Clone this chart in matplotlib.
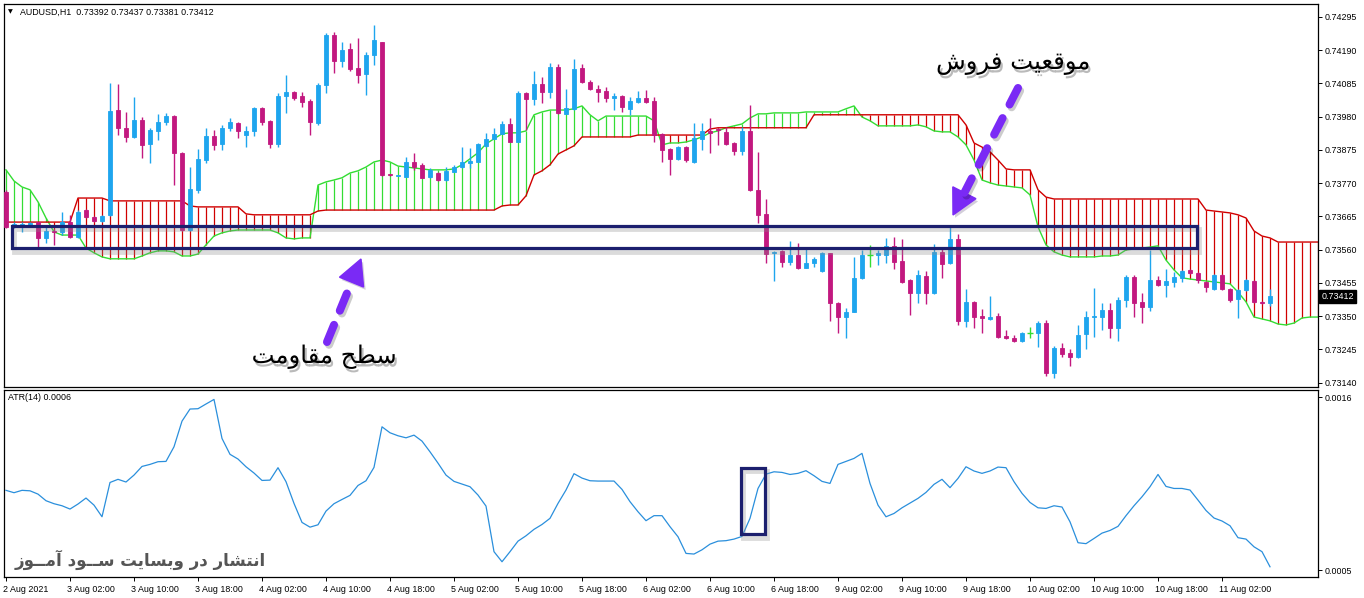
import numpy as np
import matplotlib
matplotlib.use('Agg')
import matplotlib.pyplot as plt
import matplotlib.patheffects as pe
from matplotlib.patches import Rectangle, Polygon
import matplotlib.transforms as mtransforms

# AUDUSD H1, bars from 2 Aug 18:00 to 11 Aug 08:00
open_ = [0.73742, 0.73632, 0.73632, 0.73635, 0.73647, 0.73597, 0.73619, 0.73616, 0.73647, 0.73600,
         0.73685, 0.73663, 0.73651, 0.73670, 0.74001, 0.73945, 0.73916, 0.73970, 0.73894, 0.73935,
         0.73963, 0.73982, 0.73866, 0.73622, 0.73749, 0.73843, 0.73919, 0.73894, 0.73945, 0.73960,
         0.73922, 0.73935, 0.74008, 0.73967, 0.73894, 0.74046, 0.74058, 0.74046, 0.74030, 0.73960,
         0.74080, 0.74238, 0.74156, 0.74194, 0.74134, 0.74115, 0.74175, 0.74216, 0.73799, 0.73793,
         0.73790, 0.73837, 0.73828, 0.73790, 0.73802, 0.73780, 0.73805, 0.73821, 0.73834, 0.73837,
         0.73888, 0.73910, 0.73926, 0.73957, 0.73900, 0.74055, 0.74036, 0.74084, 0.74058, 0.74137,
         0.73989, 0.74005, 0.74134, 0.74090, 0.74068, 0.74061, 0.74039, 0.74046, 0.74005, 0.74027,
         0.74039, 0.74030, 0.73926, 0.73878, 0.73847, 0.73884, 0.73837, 0.73910, 0.73935, 0.73941,
         0.73932, 0.73897, 0.73872, 0.73935, 0.73749, 0.73673, 0.73550, 0.73556, 0.73521, 0.73543,
         0.73502, 0.73518, 0.73493, 0.73550, 0.73392, 0.73347, 0.73363, 0.73471, 0.73543, 0.73543,
         0.73543, 0.73572, 0.73524, 0.73464, 0.73423, 0.73477, 0.73423, 0.73553, 0.73518, 0.73594,
         0.73335, 0.73395, 0.73350, 0.73341, 0.73350, 0.73287, 0.73281, 0.73271, 0.73297, 0.73297,
         0.73328, 0.73170, 0.73249, 0.73234, 0.73221, 0.73294, 0.73347, 0.73347, 0.73369, 0.73313,
         0.73401, 0.73474, 0.73395, 0.73379, 0.73464, 0.73448, 0.73458, 0.73471, 0.73496, 0.73486,
         0.73458, 0.73436, 0.73480, 0.73436, 0.73404, 0.73433, 0.73461, 0.73395, 0.73392]
high = [0.73749, 0.73647, 0.73647, 0.73647, 0.73647, 0.73632, 0.73625, 0.73679, 0.73670, 0.73685,
        0.73689, 0.73666, 0.73670, 0.74087, 0.74084, 0.73995, 0.74042, 0.73979, 0.73945, 0.73989,
        0.73992, 0.73986, 0.73869, 0.73821, 0.73878, 0.73945, 0.73938, 0.73954, 0.73976, 0.73963,
        0.73951, 0.74011, 0.74011, 0.73970, 0.74055, 0.74112, 0.74061, 0.74058, 0.74036, 0.74087,
        0.74245, 0.74248, 0.74216, 0.74213, 0.74229, 0.74185, 0.74270, 0.74216, 0.73799, 0.73796,
        0.73853, 0.73866, 0.73834, 0.73818, 0.73805, 0.73821, 0.73828, 0.73884, 0.73881, 0.73897,
        0.73929, 0.73945, 0.73967, 0.73976, 0.74061, 0.74058, 0.74125, 0.74106, 0.74150, 0.74147,
        0.74068, 0.74163, 0.74147, 0.74096, 0.74080, 0.74074, 0.74055, 0.74049, 0.74042, 0.74061,
        0.74065, 0.74042, 0.73929, 0.73881, 0.73888, 0.73888, 0.73960, 0.73960, 0.73976, 0.73945,
        0.73948, 0.73900, 0.73948, 0.74017, 0.73869, 0.73720, 0.73556, 0.73559, 0.73587, 0.73581,
        0.73565, 0.73537, 0.73553, 0.73550, 0.73395, 0.73376, 0.73537, 0.73559, 0.73575, 0.73559,
        0.73597, 0.73600, 0.73594, 0.73467, 0.73496, 0.73493, 0.73578, 0.73565, 0.73632, 0.73610,
        0.73436, 0.73398, 0.73373, 0.73414, 0.73360, 0.73306, 0.73290, 0.73300, 0.73316, 0.73335,
        0.73338, 0.73256, 0.73265, 0.73246, 0.73322, 0.73366, 0.73439, 0.73392, 0.73392, 0.73410,
        0.73480, 0.73480, 0.73423, 0.73559, 0.73477, 0.73499, 0.73489, 0.73496, 0.73499, 0.73489,
        0.73461, 0.73483, 0.73483, 0.73439, 0.73436, 0.73467, 0.73464, 0.73398, 0.73437]
low = [0.73629, 0.73629, 0.73616, 0.73632, 0.73568, 0.73581, 0.73575, 0.73606, 0.73597, 0.73597,
       0.73660, 0.73647, 0.73647, 0.73666, 0.73922, 0.73900, 0.73913, 0.73850, 0.73834, 0.73907,
       0.73954, 0.73764, 0.73619, 0.73619, 0.73739, 0.73834, 0.73875, 0.73875, 0.73935, 0.73913,
       0.73884, 0.73919, 0.73954, 0.73881, 0.73884, 0.73992, 0.74033, 0.74011, 0.73922, 0.73954,
       0.74055, 0.74118, 0.74137, 0.74125, 0.74087, 0.74049, 0.74144, 0.73793, 0.73793, 0.73793,
       0.73790, 0.73812, 0.73787, 0.73787, 0.73777, 0.73777, 0.73805, 0.73818, 0.73818, 0.73837,
       0.73884, 0.73910, 0.73926, 0.73900, 0.73900, 0.73938, 0.74017, 0.74024, 0.74039, 0.73989,
       0.73989, 0.74001, 0.74087, 0.74065, 0.74027, 0.74027, 0.74001, 0.73995, 0.73986, 0.74024,
       0.74024, 0.73900, 0.73837, 0.73796, 0.73843, 0.73837, 0.73834, 0.73875, 0.73866, 0.73891,
       0.73891, 0.73859, 0.73859, 0.73745, 0.73644, 0.73518, 0.73461, 0.73505, 0.73512, 0.73499,
       0.73502, 0.73505, 0.73489, 0.73335, 0.73297, 0.73281, 0.73363, 0.73467, 0.73505, 0.73512,
       0.73518, 0.73499, 0.73455, 0.73354, 0.73392, 0.73388, 0.73420, 0.73471, 0.73515, 0.73322,
       0.73316, 0.73313, 0.73297, 0.73338, 0.73281, 0.73278, 0.73268, 0.73268, 0.73281, 0.73252,
       0.73161, 0.73155, 0.73221, 0.73192, 0.73218, 0.73246, 0.73284, 0.73306, 0.73281, 0.73271,
       0.73379, 0.73347, 0.73328, 0.73366, 0.73445, 0.73410, 0.73442, 0.73458, 0.73483, 0.73455,
       0.73426, 0.73433, 0.73433, 0.73395, 0.73344, 0.73429, 0.73392, 0.73388, 0.73381]
close = [0.73632, 0.73641, 0.73641, 0.73644, 0.73597, 0.73619, 0.73616, 0.73647, 0.73600, 0.73679,
         0.73663, 0.73651, 0.73666, 0.73998, 0.73945, 0.73916, 0.73970, 0.73891, 0.73938, 0.73963,
         0.73982, 0.73866, 0.73622, 0.73752, 0.73847, 0.73919, 0.73891, 0.73945, 0.73963, 0.73935,
         0.73935, 0.74008, 0.73963, 0.73894, 0.74046, 0.74058, 0.74039, 0.74027, 0.73963, 0.74080,
         0.74238, 0.74156, 0.74191, 0.74131, 0.74112, 0.74175, 0.74223, 0.73796, 0.73796, 0.73796,
         0.73837, 0.73821, 0.73787, 0.73812, 0.73780, 0.73809, 0.73821, 0.73837, 0.73840, 0.73894,
         0.73910, 0.73926, 0.73957, 0.73900, 0.74055, 0.74036, 0.74084, 0.74058, 0.74137, 0.73992,
         0.74008, 0.74131, 0.74090, 0.74068, 0.74058, 0.74039, 0.74046, 0.74011, 0.74030, 0.74039,
         0.74027, 0.73922, 0.73875, 0.73847, 0.73884, 0.73843, 0.73913, 0.73935, 0.73929, 0.73938,
         0.73894, 0.73872, 0.73935, 0.73749, 0.73670, 0.73546, 0.73553, 0.73521, 0.73543, 0.73502,
         0.73518, 0.73531, 0.73550, 0.73392, 0.73347, 0.73363, 0.73471, 0.73543, 0.73543, 0.73550,
         0.73572, 0.73521, 0.73458, 0.73423, 0.73480, 0.73423, 0.73553, 0.73515, 0.73594, 0.73335,
         0.73395, 0.73347, 0.73344, 0.73347, 0.73284, 0.73281, 0.73271, 0.73297, 0.73297, 0.73328,
         0.73170, 0.73249, 0.73230, 0.73221, 0.73290, 0.73347, 0.73350, 0.73369, 0.73313, 0.73401,
         0.73474, 0.73392, 0.73379, 0.73464, 0.73448, 0.73461, 0.73474, 0.73493, 0.73486, 0.73464,
         0.73442, 0.73480, 0.73436, 0.73401, 0.73433, 0.73464, 0.73395, 0.73392, 0.73412]

# Ichimoku Senkou spans (shifted 26 bars ahead of price)
span_a = [0.73812, 0.73777, 0.73758, 0.73749, 0.73711, 0.73660, 0.73616, 0.73606, 0.73606, 0.73606,
          0.73565, 0.73550, 0.73537, 0.73531, 0.73531, 0.73531, 0.73531, 0.73540, 0.73550, 0.73556,
          0.73556, 0.73553, 0.73540, 0.73540, 0.73546, 0.73575, 0.73603, 0.73613, 0.73619, 0.73622,
          0.73622, 0.73622, 0.73622, 0.73622, 0.73613, 0.73597, 0.73594, 0.73597, 0.73597, 0.73764,
          0.73774, 0.73780, 0.73787, 0.73802, 0.73809, 0.73821, 0.73837, 0.73843, 0.73837, 0.73824,
          0.73821, 0.73818, 0.73815, 0.73812, 0.73812, 0.73812, 0.73815, 0.73828, 0.73847, 0.73866,
          0.73894, 0.73910, 0.73926, 0.73929, 0.73929, 0.73935, 0.73986, 0.73995, 0.74001, 0.74001,
          0.74001, 0.74005, 0.74014, 0.73986, 0.73967, 0.73982, 0.73982, 0.73982, 0.73982, 0.73982,
          0.73982, 0.73967, 0.73891, 0.73897, 0.73897, 0.73900, 0.73907, 0.73916, 0.73929, 0.73935,
          0.73945, 0.73951, 0.73957, 0.73976, 0.73989, 0.73989, 0.73992, 0.73992, 0.73992, 0.73992,
          0.73995, 0.73995, 0.73995, 0.73995, 0.73995, 0.74005, 0.74014, 0.73979, 0.73967, 0.73951,
          0.73951, 0.73951, 0.73951, 0.73951, 0.73954, 0.73948, 0.73935, 0.73932, 0.73932, 0.73916,
          0.73891, 0.73843, 0.73780, 0.73771, 0.73764, 0.73761, 0.73758, 0.73755, 0.73733, 0.73632,
          0.73575, 0.73553, 0.73543, 0.73537, 0.73537, 0.73537, 0.73537, 0.73540, 0.73540, 0.73543,
          0.73559, 0.73562, 0.73565, 0.73568, 0.73572, 0.73527, 0.73496, 0.73471, 0.73467, 0.73464,
          0.73461, 0.73458, 0.73455, 0.73452, 0.73426, 0.73395, 0.73347, 0.73341, 0.73335, 0.73325,
          0.73322, 0.73328, 0.73344, 0.73347, 0.73347]
span_b = ([0.73647] * 9 + [0.73723] * 4 + [0.73714] * 10 + [0.73698] + [0.73695] * 6
          + [0.73673] + [0.73670] * 8 + [0.73682] + [0.73685] * 22 + [0.73698] + [0.73701] * 2
          + [0.73730, 0.73796, 0.73809, 0.73828, 0.73862, 0.73875, 0.73888]
          + [0.73916] * 7 + [0.73922] * 9 + [0.73941] + [0.73945] * 12 + [0.73986] * 19
          + [0.73954, 0.73897, 0.73884, 0.73869, 0.73843, 0.73815] + [0.73812] * 3
          + [0.73749, 0.73726] + [0.73720] * 19
          + [0.73685, 0.73682, 0.73679, 0.73676, 0.73670, 0.73660, 0.73619, 0.73603, 0.73597]
          + [0.73584] * 6)

atr = [0.001007, 0.000992, 0.001007, 0.001004, 0.000983, 0.000941, 0.000922, 0.000909, 0.000888, 0.000920,
       0.000958, 0.000913, 0.000839, 0.001057, 0.001077, 0.001060, 0.001104, 0.001159, 0.001172, 0.001189,
       0.001191, 0.001284, 0.001447, 0.001524, 0.001526, 0.001556, 0.001585, 0.001337, 0.001236, 0.001206,
       0.001157, 0.001117, 0.001070, 0.001072, 0.001151, 0.001062, 0.000924, 0.000803, 0.000773, 0.000788,
       0.000875, 0.000922, 0.000949, 0.000975, 0.001038, 0.001068, 0.001153, 0.001411, 0.001373, 0.001354,
       0.001341, 0.001358, 0.001320, 0.001252, 0.001180, 0.001104, 0.001064, 0.001047, 0.001030, 0.000977,
       0.000907, 0.000617, 0.000553, 0.000617, 0.000684, 0.000718, 0.000759, 0.000790, 0.000829, 0.000924,
       0.001009, 0.001113, 0.001085, 0.001068, 0.001066, 0.001066, 0.001066, 0.001013, 0.000935, 0.000871,
       0.000814, 0.000846, 0.000846, 0.000776, 0.000712, 0.000606, 0.000602, 0.000629, 0.000665, 0.000684,
       0.000687, 0.000697, 0.000714, 0.000829, 0.001019, 0.001110, 0.001125, 0.001121, 0.001108, 0.001115,
       0.001132, 0.001100, 0.001064, 0.001051, 0.001172, 0.001191, 0.001210, 0.001242, 0.001051, 0.000913,
       0.000839, 0.000860, 0.000896, 0.000926, 0.000956, 0.000994, 0.001045, 0.001077, 0.001024, 0.001083,
       0.001157, 0.001130, 0.001115, 0.001130, 0.001155, 0.001151, 0.001062, 0.000988, 0.000930, 0.000896,
       0.000892, 0.000909, 0.000901, 0.000807, 0.000674, 0.000668, 0.000701, 0.000735, 0.000752, 0.000778,
       0.000846, 0.000909, 0.000966, 0.001030, 0.001108, 0.001032, 0.001019, 0.001019, 0.001009, 0.000945,
       0.000879, 0.000831, 0.000812, 0.000782, 0.000706, 0.000697, 0.000648, 0.000617, 0.000521]

price_ticks = [0.74295, 0.74190, 0.74085, 0.73980, 0.73875, 0.73770, 0.73665,
               0.73560, 0.73455, 0.73350, 0.73245, 0.73140]
date_pos = [0, 8, 16, 24, 32, 40, 48, 56, 64, 72, 80, 88, 96, 104, 112, 120, 128, 136, 144, 152]
date_labels = ['2 Aug 2021', '3 Aug 02:00', '3 Aug 10:00', '3 Aug 18:00', '4 Aug 02:00',
               '4 Aug 10:00', '4 Aug 18:00', '5 Aug 02:00', '5 Aug 10:00', '5 Aug 18:00',
               '6 Aug 02:00', '6 Aug 10:00', '6 Aug 18:00', '9 Aug 02:00', '9 Aug 10:00',
               '9 Aug 18:00', '10 Aug 02:00', '10 Aug 10:00', '10 Aug 18:00', '11 Aug 02:00']

BLUE = '#1ea5ee'
MAGENTA = '#c2187f'
GREEN = '#33dd33'
RED = '#d00000'
NAVY = '#1c1f6e'
PURPLE = '#7a2af5'
FONT = 'Liberation Sans'
FS = 6.4

# --- simple Arabic/Persian shaping (presentation forms) ---
FORMS = {
    'ا': ('\uFE8D', '\uFE8E', None, None), 'آ': ('\uFE81', '\uFE82', None, None),
    'ب': ('\uFE8F', '\uFE90', '\uFE91', '\uFE92'), 'ت': ('\uFE95', '\uFE96', '\uFE97', '\uFE98'),
    'ح': ('\uFEA1', '\uFEA2', '\uFEA3', '\uFEA4'), 'د': ('\uFEA9', '\uFEAA', None, None),
    'ر': ('\uFEAD', '\uFEAE', None, None), 'ز': ('\uFEAF', '\uFEB0', None, None),
    'س': ('\uFEB1', '\uFEB2', '\uFEB3', '\uFEB4'), 'ش': ('\uFEB5', '\uFEB6', '\uFEB7', '\uFEB8'),
    'ط': ('\uFEC1', '\uFEC2', '\uFEC3', '\uFEC4'), 'ع': ('\uFEC9', '\uFECA', '\uFECB', '\uFECC'),
    'ف': ('\uFED1', '\uFED2', '\uFED3', '\uFED4'), 'ق': ('\uFED5', '\uFED6', '\uFED7', '\uFED8'),
    'م': ('\uFEE1', '\uFEE2', '\uFEE3', '\uFEE4'), 'ن': ('\uFEE5', '\uFEE6', '\uFEE7', '\uFEE8'),
    'و': ('\uFEED', '\uFEEE', None, None), 'ی': ('\uFBFC', '\uFBFD', '\uFBFE', '\uFBFF'),
    'ـ': ('\u0640', '\u0640', '\u0640', '\u0640'),
}
DUAL = {k for k, v in FORMS.items() if v[2] is not None}


def shape(s):
    out = []
    for k, ch in enumerate(s):
        if ch not in FORMS:
            out.append(ch)
            continue
        prev = s[k - 1] if k > 0 else ''
        nxt = s[k + 1] if k + 1 < len(s) else ''
        jp = prev in DUAL
        jn = ch in DUAL and nxt in FORMS
        iso, fin, ini, med = FORMS[ch]
        out.append(med if jp and jn else fin if jp else ini if jn else iso)
    return ''.join(reversed(out))


W, H = 1364, 598
fig = plt.figure(figsize=(W / 100, H / 100), dpi=100)
ax = fig.add_axes([4 / W, 1 - 387 / H, 1314 / W, 383 / H])
ax2 = fig.add_axes([4 / W, 1 - 577 / H, 1314 / W, 187 / H])

o = np.array(open_)
h = np.array(high)
l = np.array(low)
c = np.array(close)
x = np.arange(len(c))
xs = np.arange(len(span_a))
sa = np.array(span_a)
sb = np.array(span_b)

# cloud hatching + span lines
hatch_col = [GREEN if a > b else RED for a, b in zip(sa, sb)]
ax.vlines(xs, sa, sb, colors=hatch_col, lw=0.9, zorder=1)
ax.plot(xs, sa, color=GREEN, lw=1, zorder=2)
ax.plot(xs, sb, color=RED, lw=1, zorder=2)

# candles
up = c > o
dn = c < o
dj = c == o
for mask, col in ((up, BLUE), (dn, MAGENTA)):
    ax.vlines(x[mask], l[mask], h[mask], color=col, lw=1, zorder=3)
    ax.bar(x[mask], (c - o)[mask], bottom=o[mask], width=0.6, color=col,
           edgecolor=col, linewidth=0.6, zorder=4)
ax.vlines(x[dj], l[dj], h[dj], color=GREEN, lw=1, zorder=3)
ax.hlines(c[dj], x[dj] - 0.35, x[dj] + 0.35, color=GREEN, lw=1, zorder=3)

ax.set_xlim(-0.25, 164.0)
ax.set_ylim(0.73126, 0.74336)
ax.yaxis.tick_right()
ax.set_yticks(price_ticks)
ax.set_yticklabels(['%.5f' % v for v in price_ticks])
ax.set_xticks([])
ax.tick_params(axis='y', direction='out', length=3, width=0.7, pad=2, labelsize=FS)
for t in ax.get_yticklabels():
    t.set_family(FONT)
ax.set_facecolor('white')
for s in ax.spines.values():
    s.set_linewidth(0.9)

# last price box
ax.annotate('%.5f' % close[-1], xy=(1.0, close[-1]), xycoords=('axes fraction', 'data'),
            xytext=(2.5, 0), textcoords='offset points', ha='left', va='center',
            fontsize=FS, family=FONT, color='white',
            bbox=dict(boxstyle='square,pad=0.25', fc='black', ec='black'))

# resistance zone rectangle
shadow = [pe.SimpleLineShadow(offset=(1.5, -2.5), shadow_color='#8a8a8a', alpha=0.3, linewidth=3.5), pe.Normal()]
zone = Rectangle((0.75, 0.73565), 148.15, 0.00070, fill=False, ec=NAVY, lw=2.3, zorder=6)
zone.set_path_effects(shadow)
ax.add_patch(zone)

# ATR panel
ax2.plot(x, atr, color='#2a8fdc', lw=0.9)
ax2.set_xlim(-0.25, 164.0)
ax2.set_ylim(0.000456, 0.001645)
ax2.yaxis.tick_right()
ax2.set_yticks([0.0016, 0.0005])
ax2.set_yticklabels(['0.0016', '0.0005'])
ax2.set_xticks(date_pos)
ax2.set_xticklabels(date_labels, ha='left')
ax2.tick_params(axis='both', direction='out', length=3, width=0.7, pad=2, labelsize=FS)
ax2.tick_params(axis='x', pad=3)
for t in ax2.get_yticklabels() + ax2.get_xticklabels():
    t.set_family(FONT)
offset = mtransforms.ScaledTranslation(-2 / 72, 0, fig.dpi_scale_trans)
for t in ax2.get_xticklabels():
    t.set_transform(t.get_transform() + offset)
for s in ax2.spines.values():
    s.set_linewidth(0.9)
atr_box = Rectangle((91.9, 0.000729), 3.0, 0.000420, fill=False, ec=NAVY, lw=2.3, zorder=6)
atr_box.set_path_effects(shadow)
ax2.add_patch(atr_box)

# headers
fig.text(8 / W, 1 - 12 / H, '▼', fontsize=4.5, family='DejaVu Sans', va='center')
fig.text(20 / W, 1 - 12 / H, 'AUDUSD,H1  0.73392 0.73437 0.73381 0.73412',
         fontsize=FS, family=FONT, va='center')
fig.text(8 / W, 1 - 398 / H, 'ATR(14) 0.0006', fontsize=FS, family=FONT, va='center')

# overlay in pixel coordinates for arrows and labels
ov = fig.add_axes([0, 0, 1, 1], zorder=10)
ov.set_xlim(0, W)
ov.set_ylim(H, 0)
ov.axis('off')
ov.patch.set_alpha(0)


def dashed_arrow(tail, tip, head_len=25, half=13):
    tail = np.array(tail, float)
    tip = np.array(tip, float)
    d = (tip - tail) / np.hypot(*(tip - tail))
    n = np.array([-d[1], d[0]])
    base = tip - d * head_len
    ov.plot([tail[0], base[0]], [tail[1], base[1]], color=PURPLE, lw=5.8,
            linestyle=(0, (2.3, 1.9)), dash_capstyle='round',
            path_effects=[pe.SimpleLineShadow(offset=(1.5, -2), alpha=0.2), pe.Normal()])
    ov.add_patch(Polygon([tip, base + n * half, base - n * half], closed=True, color=PURPLE,
                         path_effects=[pe.withSimplePatchShadow(offset=(1.5, -2), alpha=0.2)]))


dashed_arrow((1018, 88), (953, 215))
dashed_arrow((327, 342), (361, 259))

txt_fx = [pe.withSimplePatchShadow(offset=(1.5, -2.5), shadow_rgbFace='#777777', alpha=0.5)]
ov.text(1013, 63, shape('موقعیت فروش'), fontsize=17.5, family=['DejaVu Sans'],
        ha='center', va='center', color='black', path_effects=txt_fx)
ov.text(324, 357, shape('سطح مقاومت'), fontsize=17.5, family=['DejaVu Sans'],
        ha='center', va='center', color='black', path_effects=txt_fx)
ov.text(15, 560, shape('انتشار در وبسایت ســود آمــوز'), fontsize=12, family=['DejaVu Sans'],
        fontweight='bold', ha='left', va='center', color='#555555')

fig.savefig('out.png', dpi=100)
